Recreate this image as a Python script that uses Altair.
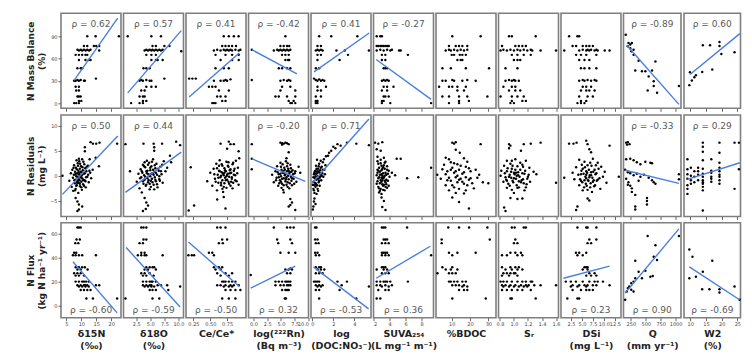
import altair as alt
import pandas as pd

# ---------------- labels / axes ----------------
X_TITLES = [["δ15N", "(‰)"], ["δ18O", "(‰)"], ["Ce/Ce*"], ["log(²²²Rn)", "(Bq m⁻³)"],
            ["log", "(DOC:NO₃⁻)"], ["SUVA₂₅₄", "(L mg⁻¹ m⁻¹)"], ["%BDOC"], ["Sᵣ"],
            ["DSi", "(mg L⁻¹)"], ["Q", "(mm yr⁻¹)"], ["W2", "(%)"]]
X_DOMAINS = [[3.2, 23.3], [0.25, 10.9], [0.14, 1.03], [-0.9, 10.0], [-0.13, 5.6], [2.0, 9.5],
             [1.4, 34.2], [0.78, 1.635], [0.26, 13.9], [127, 1090], [8.0, 26.0]]
X_TICKS = [[5, 10, 15, 20], [2.5, 5, 7.5, 10], [0.25, 0.5, 0.75], [0, 2.5, 5, 7.5, 10], [0, 2, 4],
           [2, 4, 6, 8], [10, 20, 30], [0.8, 1.0, 1.2, 1.4, 1.6], [2.5, 5, 7.5, 10, 12.5],
           [250, 500, 750, 1000], [10, 15, 20, 25]]
X_FORMATS = ["d", ".1f", ".2f", ".1f", "d", "d", "d", ".1f", ".1f", "d", "d"]

ROW_TITLES = [["N Mass Balance", "(%)"], ["N Residuals", "(mg L⁻¹)"], ["N Flux", "(kg N ha⁻¹ yr⁻¹)"]]
Y_DOMAINS = [[-7, 121], [-8.1, 12.1], [-10, 69]]
Y_TICKS = [[0, 30, 60, 90], [-5, 0, 5, 10], [0, 20, 40, 60]]

RHO = [[0.62, 0.57, 0.41, -0.42, 0.41, -0.27, None, None, None, -0.89, 0.60],
       [0.50, 0.44, None, -0.20, 0.71, None, None, None, None, -0.33, 0.29],
       [-0.60, -0.59, -0.50, 0.32, -0.53, 0.36, None, None, 0.23, 0.90, -0.69]]

# fitted line end points (x1, y1, x2, y2)
FIT_MB = [[7.6, 30.5, 22.2, 114.6], [1.0, 13.8, 10.5, 97.6], [0.187, 8.1, 0.93, 67.6],
          [-0.3, 72, 7.9, 39.4], [0.16, 42, 5.43, 94.4], [2.34, 58.7, 9.2, 5],
          None, None, None, [182, 77.9, 1055, -1.7], [9.9, 38.5, 25.8, 93.6]]
FIT_RES = [[3.7, -3.7, 22.2, 7.9], [0.6, -3.3, 10.5, 4.7], None, [-0.3, 3.4, 9.4, -1.1],
           [0.0, -1.4, 5.4, 11.3], None, None, None, None, [155, 1.1, 1055, -1.5],
           [9.1, -0.7, 25.8, 2.6]]
FIT_FLUX = [[7.2, 36.5, 22, -6], [0.73, 48.3, 10.3, -1.1], [0.176, 52.9, 0.932, 15.9],
            [-0.5, 14.6, 7.6, 32.9], [0.1, 32.3, 5.37, -2.7], [2.34, 22.8, 9.1, 49.4],
            None, None, [0.8, 22.8, 11.3, 32.9], [155, 10.4, 1055, 63.9], [9.7, 32.3, 25.7, 4.9]]

# ---------------- row 1 : N Mass Balance (%) ----------------
mb_d15n = [(12,90),(14.8,90),(22.6,90),(10.9,77),(12,77),(14.2,77),(15,77),(16,77),(8.7,72),(9.2,71),(9.8,72),(10.3,71),(10.9,72),(11.5,71),(12,72),(12.6,71),(13.1,72),(16,71),(8.1,65),(9.2,65),(10.3,65),(11.4,65),(12,65),(9.2,58),(11.4,58),(12.5,58),(13.1,58),(8.7,47),(9.8,47),(10.3,47),(14.9,33),(7.6,30),(8.1,30),(8.7,31),(9.2,30),(9.8,31),(10.9,30),(11.2,30),(8.1,22),(9.2,22),(8.3,17),(9.2,17),(8.7,9),(9.2,9),(9.8,9),(9.2,3),(10,3),(7.6,0),(8.3,0),(9.2,0)]
mb_d18o = [(1.0,90),(5.2,90),(6.9,90),(10.5,70),(5.4,77),(6.0,77),(7.5,77),(8.4,77),(4.0,71),(4.3,72),(4.6,71),(4.9,72),(5.2,71),(5.4,72),(5.7,71),(6.0,72),(6.3,71),(6.6,72),(6.9,71),(7.2,72),(4.3,65),(5.2,65),(6.0,65),(5.2,58),(6.0,58),(6.3,58),(7.2,58),(3.8,47),(4.3,47),(4.9,47),(7.5,33),(3.1,30),(3.4,31),(3.7,30),(4.3,31),(4.9,30),(5.2,30),(4.3,22),(5.2,22),(6.0,22),(3.4,17),(4.0,17),(3.1,9),(3.7,9),(4.0,9),(3.7,3),(4.3,3),(1.6,0),(3.1,0),(3.7,0)]
mb_ce = [(0.70,90),(0.775,90),(0.85,90),(0.92,90),(0.677,77),(0.726,77),(0.775,77),(0.824,77),(0.882,77),(0.554,71),(0.603,72),(0.653,71),(0.70,72),(0.726,71),(0.75,72),(0.775,71),(0.80,72),(0.824,71),(0.873,72),(0.922,71),(0.947,72),(0.578,65),(0.726,65),(0.824,65),(0.922,65),(0.653,58),(0.824,58),(0.922,58),(0.578,47),(0.70,47),(0.775,47),(0.187,33),(0.235,33),(0.285,33),(0.80,32),(0.554,30),(0.653,30),(0.70,30),(0.726,31),(0.75,30),(0.48,22),(0.53,22),(0.578,22),(0.628,17),(0.775,17),(0.603,9),(0.653,9),(0.726,9),(0.677,3),(0.726,3),(0.53,0),(0.554,0),(0.578,0)]
mb_rn = [(5.8,90),(4.9,77),(5.5,77),(6.1,77),(6.5,77),(-0.3,72),(3.7,71),(4.3,72),(4.6,71),(4.9,72),(5.2,71),(5.5,72),(5.8,71),(6.1,72),(6.4,71),(6.7,72),(5.2,65),(5.8,65),(6.4,65),(5.8,58),(6.3,58),(6.5,58),(4.6,47),(5.2,47),(6.1,47),(6.7,47),(-0.3,31),(4.9,30),(5.5,31),(6.1,30),(6.4,31),(6.7,30),(5.2,22),(6.7,22),(4.9,17),(7.6,17),(4.0,9),(4.6,9),(6.1,9),(7.6,9),(6.4,3),(7.3,3),(6.7,0),(7.0,0),(7.6,0)]
mb_doc = [(0.65,90),(1.8,90),(4.3,90),(0.49,77),(0.82,77),(0.33,71),(0.49,72),(0.65,71),(0.82,72),(0.98,71),(2.3,71),(3.1,71),(5.4,71),(0.49,65),(0.82,65),(3.4,65),(0.49,58),(2.6,58),(0.33,47),(0.65,47),(0.16,33),(0.33,31),(0.49,30),(0.65,32),(0.82,30),(0.98,31),(1.14,30),(0.49,22),(1.3,22),(0.49,17),(0.82,17),(0.33,9),(0.82,9),(0.33,3),(0.49,3),(0.33,0),(0.49,0)]
mb_suva = [(2.4,90),(2.85,90),(3.05,90),(2.4,77),(2.6,77),(2.85,77),(3.05,77),(3.27,77),(3.48,77),(3.7,77),(3.9,77),(2.4,71),(2.85,72),(3.27,71),(3.7,72),(4.1,71),(4.3,72),(5.2,71),(5.4,71),(3.05,65),(3.48,65),(6.3,65),(3.05,58),(3.48,58),(3.27,47),(3.48,47),(3.7,47),(3.05,30),(3.27,31),(3.48,30),(3.7,31),(3.9,30),(3.27,22),(3.7,22),(4.5,22),(3.05,17),(3.7,17),(3.27,9),(3.48,9),(3.9,9),(3.05,3),(3.27,3),(3.05,0),(4.1,0),(9.2,0)]
mb_bdoc = [(10.3,90),(25.8,90),(8.5,77),(12.2,77),(14,77),(15.8,77),(18.5,77),(6.7,71),(8.5,72),(9.5,71),(11.3,72),(13.1,71),(14.9,72),(16.7,71),(18.5,72),(10,65),(11.3,65),(14.4,65),(15.8,65),(17.7,65),(13.1,58),(14.9,58),(15.8,58),(4.9,47),(9.5,47),(17.7,47),(30.4,47),(4.9,30),(6.7,30),(10.3,31),(11.3,30),(15.8,30),(18.5,31),(23.1,30),(3.1,22),(8.5,22),(10.3,22),(13.1,22),(17.7,22),(13.1,17),(16.7,17),(4.9,9),(8.5,9),(14,9),(18.5,9),(29.5,9),(14,3),(19.4,3),(8.5,0),(14,0)]
mb_sr = [(0.93,90),(0.97,90),(1.31,90),(0.83,77),(1.02,77),(1.07,77),(1.12,77),(1.17,77),(0.81,71),(0.85,72),(0.90,71),(0.95,72),(1.0,71),(1.05,72),(1.09,71),(1.14,72),(1.19,71),(1.24,72),(1.26,71),(1.38,71),(1.6,71),(0.97,65),(1.05,65),(1.14,65),(1.24,65),(1.0,58),(1.05,58),(1.09,58),(0.88,47),(1.05,47),(0.88,30),(0.93,31),(0.97,30),(1.0,31),(1.02,30),(1.07,30),(0.85,22),(0.97,22),(1.02,22),(0.93,17),(1.02,17),(1.09,17),(0.81,9),(0.97,9),(1.05,9),(1.14,9),(0.97,3),(1.12,3),(1.17,3),(0.95,0),(1.0,0)]
mb_dsi = [(2.1,90),(4.0,90),(4.4,90),(2.9,77),(3.7,77),(5.2,77),(6.0,77),(6.7,77),(7.5,77),(1.0,71),(4.4,71),(5.2,72),(6.0,71),(6.3,72),(6.7,71),(7.1,72),(7.9,71),(8.3,72),(8.6,71),(10.2,71),(11.3,71),(3.7,65),(4.8,65),(6.0,65),(8.3,65),(4.4,58),(5.6,58),(6.7,58),(4.8,47),(5.6,47),(6.7,47),(8.3,47),(4.4,30),(5.2,31),(5.6,30),(6.3,31),(7.1,30),(7.9,31),(8.3,30),(5.2,22),(6.0,22),(7.1,22),(4.8,17),(6.0,17),(6.7,17),(7.9,17),(4.4,9),(6.3,9),(7.5,9),(4.8,3),(6.0,3),(4.0,0),(4.8,0),(5.6,0)]
mb_q = [(165,92),(211,81),(240,79),(267,81),(199,76.5),(240,74),(296,72),(257,70),(296,65),(380,57),(662,56),(324,44),(436,43),(493,43),(605,44),(549,36),(633,29.5),(633,23),(532,17),(689,14),(1055,23)]
mb_w2 = [(9.9,41.6),(9.7,24.2),(10.5,30.5),(11.3,34.9),(11.8,37.6),(13.8,42),(14.0,77.9),(16.3,77.9),(17,45.3),(19.3,82.3),(19.3,77),(19.9,66.2),(24.1,68.5)]

# ---------------- row 2 : N Residuals (mg/L) ----------------
res_d15n = [(3.7,0.0),(6.0,-1.0),(6.5,0.5),(6.8,-2.2),(7.0,1.2),(7.2,-0.4),(7.3,-3.0),(7.5,0.2),(7.6,2.1),(7.8,-1.5),(7.9,0.8),(8.0,-0.8),(8.1,-2.6),(8.2,1.6),(8.3,-0.1),(8.4,3.1),(8.5,-1.9),(8.6,0.5),(8.7,-1.1),(8.8,2.5),(8.9,-0.5),(9.0,1.0),(9.0,-3.4),(9.1,-1.4),(9.2,0.3),(9.3,2.9),(9.4,-0.9),(9.5,1.4),(9.6,-2.1),(9.7,0.0),(9.8,-0.3),(9.9,1.9),(10.0,-1.2),(10.1,0.7),(10.2,-2.8),(10.3,3.3),(10.4,-0.6),(10.5,1.1),(10.6,-1.7),(10.8,0.4),(11.0,2.3),(11.1,-0.9),(11.3,1.5),(11.5,-2.3),(11.7,0.9),(12.0,-0.2),(12.2,2.0),(12.5,-1.3),(12.8,3.3),(13.0,0.6),(13.3,-0.5),(13.8,1.2),(14.8,3.6),(15.9,1.9),(11.2,5.7),(11.2,4.9),(13.1,6.7),(13.9,6.4),(15.0,6.4),(16.1,6.6),(22.0,6.4),(8.1,-4.4),(8.7,-5.1),(9.2,-5.7),(10.3,-6.1),(9.2,-6.7),(8.7,-7.0),
            (7.4,1.6),(7.7,-0.9),(8.0,0.3),(8.3,-2.0),(8.5,1.3),(8.7,-0.2),(8.9,2.0),(9.1,-0.7),(9.3,0.6),(9.5,-1.6),(9.6,2.4),(9.8,0.8),(10.0,-2.3),(10.2,0.1),(10.4,1.7),(10.6,-0.9),(10.9,-2.0),(11.2,0.5),(11.4,-1.1),(11.8,1.8),(12.3,0.2),(9.0,-0.3),(9.4,0.3),(10.1,-0.4),(8.6,-1.4),(7.9,-2.9),(11.6,-0.3),(12.7,1.0),(9.2,3.4),(10.7,2.8)]
res_d18o = [(1.4,0.9),(2.6,-1.2),(2.9,0.4),(3.1,-2.5),(3.3,1.3),(3.4,-0.3),(3.5,-3.3),(3.6,0.6),(3.7,2.2),(3.8,-1.6),(3.9,0.1),(4.0,-0.8),(4.1,1.7),(4.2,-2.0),(4.3,0.9),(4.4,3.0),(4.5,-0.5),(4.6,-1.3),(4.7,0.3),(4.8,2.6),(4.9,-2.7),(5.0,1.1),(5.0,-0.1),(5.1,-1.0),(5.2,1.9),(5.3,-0.6),(5.4,0.5),(5.5,3.3),(5.6,-1.8),(5.7,0.8),(5.8,-0.3),(5.9,1.5),(6.0,-1.1),(6.1,2.4),(6.2,0.2),(6.3,-2.3),(6.5,1.0),(6.6,-0.7),(6.8,1.8),(7.0,0.3),(7.2,-1.4),(7.4,2.9),(7.7,0.9),(8.0,1.6),(8.7,2.7),(8.5,4.0),(0.6,6.3),(3.8,6.4),(5.6,6.4),(7.1,6.4),(9.6,6.8),(10.3,6.1),(5.7,5.7),(5.7,5.0),(4.0,-4.4),(4.3,-5.3),(4.6,-5.9),(4.2,-6.6),(3.7,-7.0),
            (3.5,0.9),(3.7,-1.1),(3.9,1.9),(4.1,-0.2),(4.3,-1.8),(4.4,0.5),(4.6,2.2),(4.7,-0.9),(4.8,0.0),(5.0,1.6),(5.1,-2.2),(5.2,0.4),(5.4,-1.3),(5.5,1.2),(5.6,0.2),(5.8,2.1),(5.9,-0.8),(6.0,0.6),(6.2,-1.7),(6.4,1.4),(6.6,-0.1),(6.9,0.9),(7.1,2.2),(4.5,1.0),(5.3,2.8),(4.9,-1.6),(3.2,-0.5),(6.7,-1.0),(5.7,-2.7),(4.0,2.7)]
res_ce = [(0.21,1.7),(0.455,-1.1),(0.50,0.6),(0.53,-2.0),(0.55,1.4),(0.57,-0.6),(0.59,2.4),(0.60,-2.9),(0.61,0.2),(0.62,-1.4),(0.63,1.0),(0.64,3.1),(0.65,-0.3),(0.66,-1.9),(0.67,0.7),(0.68,2.0),(0.68,-0.9),(0.69,-3.2),(0.70,0.1),(0.71,1.5),(0.71,-1.5),(0.72,-0.4),(0.73,0.9),(0.74,2.8),(0.74,-2.4),(0.75,-0.8),(0.76,0.4),(0.77,1.8),(0.77,-1.2),(0.78,-0.2),(0.79,1.1),(0.80,-2.0),(0.81,0.6),(0.82,-0.6),(0.83,2.3),(0.84,-1.4),(0.85,0.2),(0.86,1.4),(0.87,-0.9),(0.88,3.0),(0.90,0.5),(0.92,-1.8),(0.92,4.9),(0.93,3.5),(0.653,6.4),(0.775,6.8),(0.80,6.3),(0.85,6.3),(0.75,5.4),(0.18,-6.9),(0.26,-5.9),(0.603,-4.7),(0.726,-6.5),(0.70,-4.2),
          (0.56,0.3),(0.58,-1.2),(0.60,1.5),(0.62,-0.4),(0.64,0.9),(0.66,-1.4),(0.67,2.3),(0.69,0.4),(0.70,-2.2),(0.72,1.1),(0.73,-0.9),(0.75,0.2),(0.76,2.0),(0.78,-1.6),(0.79,0.5),(0.80,1.3),(0.82,-0.3),(0.83,-2.5),(0.85,1.0),(0.87,0.1),(0.89,-1.1),(0.74,-0.1),(0.71,0.6),(0.68,-2.6),(0.77,2.7),(0.81,-1.2),(0.63,2.0),(0.66,0.0),(0.91,1.6),(0.84,2.6)]
res_rn = [(-0.3,6.3),(-0.3,3.4),(-0.3,1.3),(3.4,0.2),(3.7,-1.3),(4.0,0.9),(4.2,-0.4),(4.3,1.9),(4.5,-2.0),(4.6,0.3),(4.8,-0.9),(4.9,2.6),(5.0,-0.1),(5.1,1.2),(5.2,-1.6),(5.3,0.6),(5.4,-2.8),(5.5,-0.5),(5.6,1.6),(5.7,0.1),(5.8,-1.1),(5.9,2.9),(6.0,-0.3),(6.1,0.9),(6.2,-2.2),(6.3,1.4),(6.4,-0.7),(6.5,0.4),(6.6,-1.5),(6.7,2.2),(6.8,-0.2),(6.9,0.8),(7.0,-1.9),(7.1,1.1),(7.3,-0.6),(7.5,0.5),(7.8,-1.2),(8.5,0.6),(8.2,1.8),(6.0,3.5),(5.5,-3.3),(4.9,6.6),(5.2,6.5),(5.5,6.4),(5.8,6.6),(6.1,6.5),(6.4,6.3),(5.2,6.2),(6.4,4.7),(6.7,-4.6),(7.0,-5.3),(6.4,-6.1),(7.6,-6.8),(6.7,-5.8),
          (4.1,-0.9),(4.4,0.7),(4.7,-1.5),(4.9,0.4),(5.0,1.8),(5.2,-0.6),(5.4,0.9),(5.5,-1.9),(5.7,1.2),(5.8,0.3),(5.9,-0.7),(6.1,1.9),(6.2,-1.3),(6.3,0.0),(6.5,-2.5),(6.6,0.7),(6.8,1.5),(7.0,-0.5),(7.2,0.3),(7.4,-1.6),(5.3,2.3),(6.0,-1.8),(5.6,0.5),(6.4,1.0),(4.6,-0.3),(5.1,-2.4),(6.9,-1.0),(7.6,0.9),(6.2,2.5),(5.0,-1.2)]
res_doc = [(0.05,-6.7),(0.1,-6.1),(0.15,-5.1),(0.2,-3.4),(0.1,-2.6),(0.2,-1.9),(0.1,-1.2),(0.3,-2.2),(0.25,-0.5),(0.15,0.3),(0.35,-1.6),(0.3,1.0),(0.4,-0.8),(0.45,0.5),(0.35,2.0),(0.5,-2.6),(0.5,-0.1),(0.55,1.4),(0.6,-1.3),(0.6,0.8),(0.65,2.4),(0.7,-0.4),(0.7,-2.0),(0.75,1.1),(0.8,0.2),(0.8,3.0),(0.85,-0.9),(0.9,1.8),(0.95,0.5),(1.0,2.7),(1.05,-0.2),(1.1,3.3),(1.15,1.2),(1.2,0.3),(1.25,2.1),(1.3,3.9),(0.4,-3.6),(0.25,0.9),(0.55,-3.0),(0.45,3.2),(1.6,4.6),(1.8,5.0),(2.0,5.8),(2.4,6.3),(2.7,6.0),(3.3,6.6),(4.2,6.4),(5.4,6.1),(1.5,4.0),(2.2,5.5),
           (0.05,-1.8),(0.1,-0.3),(0.15,-2.9),(0.2,0.6),(0.25,-1.4),(0.3,-0.1),(0.35,0.4),(0.4,1.4),(0.45,-1.9),(0.5,0.9),(0.55,-0.6),(0.6,1.9),(0.65,-1.0),(0.7,0.6),(0.75,-0.2),(0.8,1.6),(0.9,0.0),(1.0,1.2),(0.2,-4.5),(0.3,-5.6)]
res_suva = [(2.2,6.6),(2.6,6.4),(3.1,6.7),(2.4,5.3),(2.9,5.0),(2.5,3.8),(2.9,3.2),(3.3,3.6),(2.6,2.4),(3.0,2.0),(3.4,2.6),(3.7,1.9),(2.5,1.2),(2.8,0.8),(3.1,1.4),(3.5,0.6),(3.9,1.0),(2.4,0.1),(2.7,-0.3),(3.0,0.3),(3.2,-0.5),(3.4,0.0),(3.6,-0.8),(4.0,-0.2),(2.5,-1.1),(2.8,-1.5),(3.1,-0.9),(3.3,-1.8),(3.5,-1.3),(3.8,-1.0),(2.6,-2.2),(2.9,-2.6),(3.2,-2.0),(3.4,-2.9),(3.7,-2.4),(2.7,-3.3),(3.0,-3.6),(4.3,0.6),(4.7,0.1),(4.9,3.4),(5.4,3.4),(6.2,-0.5),(7.6,-0.3),(9.2,1.6),(3.3,-5.0),(3.1,-6.2),(3.5,-6.8),(3.0,-4.3),
            (2.5,2.9),(2.7,1.6),(2.8,0.2),(2.9,-0.9),(3.0,1.1),(3.1,-1.7),(3.2,0.5),(3.3,2.1),(3.3,-0.3),(3.4,1.4),(3.5,-2.2),(3.6,0.2),(3.7,1.2),(2.6,-0.5),(2.7,-2.5),(3.0,-1.2),(3.2,-2.8),(3.4,-1.0),(2.9,2.5),(3.1,0.0),(2.5,0.6),(3.8,0.4),(3.6,-1.7),(2.8,-3.0),(3.9,-2.0),(2.6,1.0),(3.5,2.8),(3.2,1.7),(2.4,-1.6),(3.0,-0.4)]
res_bdoc = [(10.3,6.6),(11.3,6.4),(12.2,6.7),(25.8,6.3),(12.2,5.2),(14.4,4.6),(6.7,3.6),(8.5,3.3),(9.5,2.7),(16.7,3.5),(18.5,2.8),(13.1,2.3),(4.9,1.3),(7.6,0.9),(10.3,1.6),(11.3,0.6),(14.0,1.2),(15.8,0.4),(17.7,1.8),(20.3,0.9),(23.1,1.2),(2.1,0.2),(8.5,-0.4),(9.5,-1.0),(12.2,-0.3),(13.1,-1.3),(14.9,-0.6),(16.7,-1.6),(19.4,-0.8),(21.2,-1.5),(27.0,-1.3),(30.0,-1.5),(6.7,-1.9),(11.3,-2.3),(14.0,-2.6),(17.7,-2.9),(22.1,-2.5),(10.3,-4.3),(14.0,-5.2),(19.4,-6.5),(4.0,-0.6),(25.0,0.2),
            (5.8,2.2),(7.6,-0.9),(9.5,1.2),(10.3,-1.9),(11.3,2.5),(12.2,0.9),(13.1,0.0),(14.0,-0.8),(14.9,2.0),(15.8,-1.2),(16.7,0.7),(17.7,-0.3),(18.5,-1.9),(19.4,1.5),(20.3,-0.5),(12.2,-3.4),(8.5,-2.9),(16.7,-3.5),(24.0,-0.4),(6.7,0.3)]
res_sr = [(0.93,6.3),(0.95,6.0),(0.93,5.5),(1.14,6.3),(1.24,6.4),(1.38,6.6),(1.10,5.0),(0.90,3.0),(1.02,3.3),(1.17,3.0),(0.86,2.0),(0.95,2.4),(1.05,1.9),(1.12,2.2),(1.22,1.6),(0.82,1.0),(0.90,0.9),(0.97,1.4),(1.03,0.6),(1.09,1.2),(1.15,0.4),(1.28,0.8),(0.81,0.0),(0.88,-0.3),(0.94,0.2),(1.00,-0.5),(1.06,0.1),(1.13,-0.7),(1.20,-0.2),(1.32,0.3),(0.85,-1.2),(0.92,-1.6),(0.98,-1.0),(1.04,-1.9),(1.10,-1.3),(1.18,-1.7),(0.90,-2.4),(0.97,-2.8),(1.07,-2.3),(1.15,-2.9),(1.60,-1.4),(0.95,-4.4),(1.05,-4.6),(1.12,-4.5),(0.86,-6.3),(0.88,-7.0),(1.00,-3.4),
          (0.87,0.5),(0.89,-0.8),(0.91,1.5),(0.93,-0.2),(0.94,-2.0),(0.96,0.8),(0.98,2.0),(0.99,-1.3),(1.01,0.3),(1.02,1.2),(1.03,-0.6),(1.05,-2.4),(1.06,0.7),(1.08,-0.2),(1.09,2.6),(1.11,-0.9),(1.12,0.5),(1.14,-1.5),(1.16,1.0),(1.19,-0.6),(1.21,0.2),(1.23,-1.2),(0.96,-0.4),(1.00,0.6),(1.04,0.0),(1.07,-1.1),(0.90,-1.0),(1.13,1.8),(0.97,3.0),(1.17,-2.3)]
res_dsi = [(2.1,6.4),(3.1,6.4),(3.8,6.6),(6.0,7.0),(6.3,6.3),(11.3,6.0),(6.7,5.3),(7.1,4.7),(4.4,3.2),(5.6,2.8),(7.5,3.4),(8.6,2.6),(3.7,1.7),(5.2,1.4),(6.3,2.1),(7.9,1.2),(9.4,1.8),(10.2,0.8),(2.9,0.6),(4.8,0.3),(6.0,0.9),(7.1,0.1),(8.3,0.5),(9.8,-0.2),(1.0,-0.4),(13.4,-0.2),(3.3,-0.7),(5.6,-0.9),(6.7,-0.3),(7.5,-1.2),(8.6,-0.8),(10.6,-1.4),(4.4,-1.9),(5.9,-1.6),(6.9,-2.3),(8.0,-1.9),(9.2,-2.6),(5.2,-2.9),(7.3,-3.2),(6.3,-4.5),(6.7,-4.9),(4.0,-6.1),(3.7,-6.8),(6.0,0.2),(6.5,-1.0),
           (4.2,0.2),(4.6,-0.7),(4.9,1.0),(5.1,-1.3),(5.4,0.4),(5.7,1.7),(5.8,-0.2),(6.1,-2.0),(6.2,0.6),(6.4,-0.9),(6.6,1.2),(6.8,0.1),(7.0,-1.5),(7.2,2.0),(7.4,-0.4),(7.6,0.8),(7.8,-2.1),(8.1,0.3),(8.4,-1.0),(8.8,1.4),(5.5,-2.3),(6.9,2.6),(6.0,-0.5),(7.7,-0.9),(5.0,2.2),(9.0,-0.5),(6.3,-2.8),(4.8,-1.0),(8.2,2.1),(7.1,0.7)]
res_q = [(172,6.6),(200,6.7),(228,6.3),(186,6.2),(172,3.3),(240,3.4),(296,3.1),(350,2.7),(410,2.3),(493,2.8),(577,2.6),(605,2.5),(155,1.2),(200,0.7),(240,0.5),(296,0.1),(350,0.4),(410,-0.2),(470,0.2),(549,-0.4),(605,-0.9),(633,-1.3),(662,-1.6),(172,-0.6),(210,-1.3),(240,-2.0),(267,-2.5),(267,-3.2),(324,-3.8),(520,-4.4),(520,-5.0),(520,-5.7),(324,-6.1),(324,-6.7),(1055,0.3),(1055,-0.7),(200,-1.8),(380,-1.0)]
res_w2 = [(14.0,6.6),(14.0,5.8),(14.0,4.8),(14.0,3.1),(14.0,1.4),(14.0,0.4),(14.0,-0.2),(14.0,-0.9),(14.0,-1.3),(14.0,-1.6),(14.0,-2.2),(14.0,-2.9),(14.0,-6.9),(19.3,6.6),(19.3,4.6),(19.3,2.6),(19.3,1.6),(19.3,0.9),(19.3,0.2),(19.3,-0.2),(19.3,-0.9),(19.3,-1.6),(9.1,3.3),(9.1,1.3),(9.1,0.3),(9.1,-0.6),(9.1,-1.9),(9.1,-2.6),(9.1,-3.6),(10.2,1.6),(10.2,0.0),(10.2,-0.9),(10.2,-1.6),(11.3,0.9),(11.3,-0.2),(11.3,-1.3),(12.5,1.6),(12.5,0.9),(12.5,0.2),(12.5,-0.9),(16.7,3.3),(16.7,1.0),(16.7,0.6),(16.7,-0.2),(16.7,-0.6),(16.7,-1.2),(24.1,6.6),(24.1,-2.6),(25.5,6.6),(25.5,1.3)]

# ---------------- row 3 : N Flux (kg N/ha/yr) ----------------
fx_d15n = [(8.7,65),(9.2,65),(9.8,65),(8.4,55),(9.5,55),(8.0,52),(9.0,52),(7.6,44),(8.3,44),(7.2,42),(8.1,42),(9.2,42),(10.3,42),(14.9,42),(8.1,32),(9.2,32),(10.3,32),(11.2,32),(8.7,30),(9.8,30),(12.1,30),(7.6,27),(8.7,27),(9.8,27),(8.1,25),(9.2,25),(10.9,25),(8.1,20),(9.2,20),(10.3,20),(10.9,20),(11.6,20),(12.5,20),(8.7,17),(9.8,17),(10.9,17),(11.4,17),(12,17),(14.9,17),(16,17),(9.2,16),(10.3,16),(11.4,16),(12.5,16),(9.8,13),(10.9,13),(12,13),(13.1,13),(11.7,6),(13.9,6),(22,6)]
fx_d18o = [(3.4,65),(3.8,65),(4.3,65),(3.8,55),(4.3,55),(3.1,52),(3.7,52),(3.4,44),(4.0,44),(2.8,42),(3.4,42),(4.0,42),(4.3,42),(7.2,42),(4.3,32),(4.9,32),(5.4,32),(5.7,32),(4.0,30),(4.6,30),(6.0,30),(3.4,27),(4.0,27),(4.9,27),(3.7,25),(4.3,25),(5.6,25),(3.7,20),(4.3,20),(4.9,20),(5.2,20),(5.4,20),(6.0,20),(3.7,17),(4.3,17),(4.9,17),(5.2,17),(6.3,17),(6.9,17),(8.0,17),(4.0,16),(4.6,16),(5.2,16),(5.7,16),(4.9,13),(5.4,13),(6.0,13),(8.2,13),(5.4,6),(6.6,6),(10.3,16),(0.6,6)]
fx_ce = [(0.603,65),(0.653,65),(0.726,65),(0.677,55),(0.75,55),(0.628,52),(0.686,52),(0.48,44),(0.53,44),(0.176,42),(0.226,42),(0.26,42),(0.554,42),(0.554,32),(0.628,32),(0.677,32),(0.578,30),(0.653,30),(0.603,27),(0.726,27),(0.824,27),(0.653,25),(0.775,25),(0.677,20),(0.70,20),(0.726,20),(0.775,20),(0.824,20),(0.873,20),(0.603,17),(0.653,17),(0.726,17),(0.80,17),(0.849,17),(0.922,17),(0.70,16),(0.775,16),(0.824,16),(0.726,13),(0.80,13),(0.873,13),(0.947,13),(0.677,6),(0.775,6),(0.873,6)]
fx_rn = [(3.7,65),(6.1,65),(6.7,65),(7.3,65),(4.3,55),(6.7,55),(4.5,52),(7.0,52),(4.9,44),(6.4,44),(7.6,44),(-0.5,25.5),(5.8,30),(6.4,30),(6.7,31),(7.0,30),(6.1,27),(6.7,27),(4.0,20),(4.6,20),(5.2,20),(5.8,20),(6.1,20),(6.4,20),(6.7,20),(4.0,17),(4.9,17),(5.5,17),(6.1,17),(6.4,17),(6.7,17),(5.2,13),(5.8,13),(6.1,13),(6.4,13),(5.7,6),(5.9,6)]
fx_doc = [(0.26,65),(0.39,65),(0.26,55),(0.49,55),(0.33,52),(0.59,52),(0.26,44),(0.49,44),(0.33,42),(0.65,42),(0.33,32),(0.65,32),(0.82,32),(0.49,30),(0.82,30),(1.14,30),(0.33,27),(0.65,27),(0.98,27),(0.16,20),(0.33,20),(0.49,20),(0.65,20),(2.4,20),(3.3,20),(0.33,17),(0.65,17),(0.98,17),(2.8,17),(0.49,16),(0.82,16),(5.4,16),(0.33,13),(0.65,13),(2.6,13),(0.65,6),(4.2,6)]
fx_suva = [(3.05,65),(3.27,65),(3.48,65),(6.2,65),(3.27,55),(3.48,55),(3.7,55),(3.05,52),(3.48,52),(3.9,52),(3.05,44),(3.27,44),(3.48,44),(3.7,44),(3.05,42),(3.48,42),(3.9,42),(9.2,42),(3.05,32),(3.27,32),(3.48,32),(2.4,30),(3.27,30),(3.7,30),(3.05,27),(3.48,27),(3.9,27),(2.4,20),(2.85,20),(3.27,20),(3.48,20),(3.7,20),(4.1,20),(6.3,20),(2.4,17),(2.85,17),(3.05,16),(3.48,17),(3.9,16),(4.3,17),(2.6,13),(3.48,13),(3.9,13),(2.4,6),(2.85,6)]
fx_bdoc = [(8.1,65),(14,65),(19.5,65),(29.5,65),(4.5,55),(30.8,55),(4.5,52),(8.5,44),(13.1,44),(23.1,44),(10.3,42),(4.9,32),(10.3,32),(6.7,30),(9.5,30),(13.1,30),(2.2,27),(8.5,27),(10.3,27),(12.2,27),(8.5,20),(9.5,20),(11.3,20),(13.1,20),(15.8,20),(17.7,20),(10.3,17),(12.2,17),(14,17),(15.8,16),(16.7,17),(18.5,16),(14,13),(16.7,13),(18.5,13),(10.3,6),(28.6,6)]
fx_sr = [(0.97,65),(1.01,65),(1.14,65),(1.17,65),(1.02,55),(1.0,52),(1.05,52),(0.95,44),(1.02,44),(1.1,44),(0.83,42),(0.9,42),(1.05,42),(1.12,42),(0.83,32),(0.95,32),(1.02,32),(1.07,32),(0.88,30),(0.97,30),(1.05,30),(1.12,30),(0.85,27),(0.9,27),(0.95,27),(1.0,27),(1.02,27),(0.83,25),(0.93,25),(1.05,25),(0.81,20),(0.85,20),(0.9,20),(0.97,20),(1.05,20),(1.12,20),(1.17,20),(1.24,20),(1.26,20),(0.83,17),(0.88,17),(0.95,17),(1.02,17),(1.1,17),(1.17,17),(1.21,17),(1.29,17),(1.38,17),(1.6,17),(0.85,16),(0.93,16),(1.0,16),(1.07,16),(1.14,16),(1.19,16),(0.83,13),(0.9,13),(0.97,13),(1.05,13),(1.12,13),(1.24,13),(0.95,6),(0.97,6),(1.31,6)]
fx_dsi = [(4.0,65),(6.0,65),(6.3,65),(8.3,65),(6.7,55),(8.3,55),(6.3,52),(7.1,52),(3.65,44),(4.4,44),(6.0,44),(4.0,42),(5.2,42),(5.6,32),(6.0,32),(6.3,32),(5.2,30),(6.3,30),(6.7,27),(7.9,27),(6.0,25),(7.1,25),(8.3,25),(1.35,20),(2.5,20),(3.65,20),(5.2,20),(6.7,20),(7.9,20),(8.6,20),(9.8,20),(2.9,17),(4.4,17),(5.6,17),(6.3,17),(7.5,17),(8.3,17),(11.3,17),(2.5,16),(4.0,16),(6.0,16),(2.9,13),(4.8,13),(6.0,13),(6.7,13),(7.5,13),(1.7,6),(4.0,6),(4.4,6)]
fx_q = [(155,4.9),(182,11.8),(199,14.6),(223,15.9),(257,13.2),(257,18.7),(296,20),(324,22.8),(296,11.8),(380,28.2),(324,37.3),(436,22.8),(493,29),(532,57.9),(577,24.1),(617,24.6),(633,40.6),(662,50.2),(689,37.9),(1055,57.9)]
fx_w2 = [(9.7,46.7),(10.7,40.6),(11.8,24.1),(9.7,22.8),(13.8,13.7),(14.0,28.2),(16.1,13.7),(17,37.3),(19.3,13.7),(19.3,11),(24.1,15.9),(25.7,4.9)]

ROWS = [
    [mb_d15n, mb_d18o, mb_ce, mb_rn, mb_doc, mb_suva, mb_bdoc, mb_sr, mb_dsi, mb_q, mb_w2],
    [res_d15n, res_d18o, res_ce, res_rn, res_doc, res_suva, res_bdoc, res_sr, res_dsi, res_q, res_w2],
    [fx_d15n, fx_d18o, fx_ce, fx_rn, fx_doc, fx_suva, fx_bdoc, fx_sr, fx_dsi, fx_q, fx_w2],
]
FITS = [FIT_MB, FIT_RES, FIT_FLUX]

# ---------------- layout / style ----------------
WIDTHS = [60, 60, 60, 60, 60, 60, 60, 60, 60, 57.5, 56.5]
HEIGHTS = [95, 101.5, 95]
FONT = "DejaVu Sans"
LINE_COLOR = "#4a7ee0"


def panel(r, c):
    w, h = WIDTHS[c], HEIGHTS[r]
    pts = pd.DataFrame(ROWS[r][c], columns=["x", "y"])
    if r == 2:
        xaxis = alt.Axis(values=X_TICKS[c], format=X_FORMATS[c], title=X_TITLES[c],
                         tickSize=3, labelFontSize=5, labelPadding=1, labelColor="#444444",
                         labelOverlap=False, domain=False, titleFont=FONT,
                         titleFontWeight="bold", titleFontSize=9.5, titleLineHeight=12,
                         titlePadding=2, titleColor="#222222")
    else:
        xaxis = alt.Axis(values=X_TICKS[c], labels=False, title=None, tickSize=3, domain=False)
    if c == 0:
        yaxis = alt.Axis(values=Y_TICKS[r], format="d", title=ROW_TITLES[r], tickSize=3,
                         labelFontSize=5, labelPadding=1, labelColor="#444444", domain=False,
                         minExtent=12, maxExtent=12, titlePadding=2, titleFont=FONT,
                         titleFontWeight="bold", titleFontSize=9, titleLineHeight=11.6,
                         titleColor="#222222")
    else:
        yaxis = None
    xenc = alt.X("x:Q", scale=alt.Scale(domain=X_DOMAINS[c], nice=False, zero=False), axis=xaxis)
    yenc = alt.Y("y:Q", scale=alt.Scale(domain=Y_DOMAINS[r], nice=False, zero=False), axis=yaxis)

    layers = [alt.Chart(pts).mark_circle(size=6, color="black", opacity=1).encode(x=xenc, y=yenc)]
    fit = FITS[r][c]
    if fit is not None:
        fdf = pd.DataFrame({"x": [fit[0], fit[2]], "y": [fit[1], fit[3]]})
        layers.append(alt.Chart(fdf).mark_line(color=LINE_COLOR, strokeWidth=1.4, clip=True)
                      .encode(x=xenc, y=yenc))
    rho = RHO[r][c]
    if rho is not None:
        tdf = pd.DataFrame({"t": [f"ρ = {rho:.2f}"]})
        ty = h - 5 if r == 2 else 14
        layers.append(alt.Chart(tdf).mark_text(font=FONT, fontSize=9, color="#595959",
                                               align="center", baseline="alphabetic")
                      .encode(x=alt.value(w / 2), y=alt.value(ty), text="t:N"))
    return alt.layer(*layers).properties(width=w, height=h)


rows = [alt.hconcat(*[panel(r, c) for c in range(11)], spacing=2.5, bounds="flush")
        for r in range(3)]

chart = (
    alt.vconcat(*rows, spacing=0.7)
    .properties(padding={"left": 25, "top": 12.3, "right": 8, "bottom": 2}, background="white")
    .configure_view(stroke="#7f7f7f", strokeWidth=1.6)
    .configure_axis(grid=False, tickColor="#666666", labelFont=FONT)
)

chart.save("out.html", embed_options={"renderer": "svg", "actions": False})
